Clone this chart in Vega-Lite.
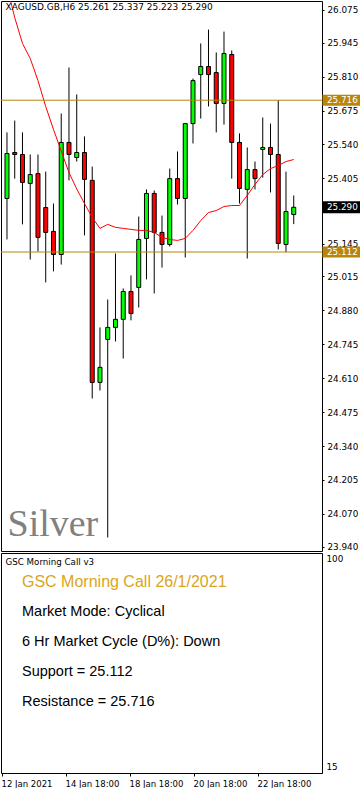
{
  "$schema": "https://vega.github.io/schema/vega-lite/v6.json",
  "background": "white",
  "padding": 0,
  "autosize": {"type": "pad"},
  "bounds": "flush",
  "spacing": 2,
  "config": {
    "view": {"stroke": "black", "strokeWidth": 1},
    "axis": {"labelFont": "DejaVu Sans", "labelColor": "black", "tickColor": "black", "domain": false, "grid": false},
    "title": {"font": "DejaVu Sans", "fontWeight": "normal", "color": "black", "fontSize": 9, "anchor": "start", "frame": "group"}
  },
  "datasets": {
    "candles": [
      {"i": 0, "t": "12 Jan 18:00", "open": 25.325, "high": 25.588, "low": 25.162, "close": 25.504, "ma": 26.169},
      {"i": 1, "t": "13 Jan 00:00", "open": 25.508, "high": 25.635, "low": 25.404, "close": 25.500, "ma": 26.045},
      {"i": 2, "t": "13 Jan 06:00", "open": 25.500, "high": 25.588, "low": 25.222, "close": 25.389, "ma": 25.942},
      {"i": 3, "t": "13 Jan 12:00", "open": 25.385, "high": 25.500, "low": 25.082, "close": 25.420, "ma": 25.882},
      {"i": 4, "t": "13 Jan 18:00", "open": 25.424, "high": 25.500, "low": 25.114, "close": 25.170, "ma": 25.794},
      {"i": 5, "t": "14 Jan 00:00", "open": 25.289, "high": 25.432, "low": 24.991, "close": 25.190, "ma": 25.691},
      {"i": 6, "t": "14 Jan 06:00", "open": 25.194, "high": 25.305, "low": 25.035, "close": 25.102, "ma": 25.600},
      {"i": 7, "t": "14 Jan 12:00", "open": 25.102, "high": 25.663, "low": 25.062, "close": 25.548, "ma": 25.514},
      {"i": 8, "t": "14 Jan 18:00", "open": 25.548, "high": 25.846, "low": 25.397, "close": 25.500, "ma": 25.428},
      {"i": 9, "t": "15 Jan 00:00", "open": 25.488, "high": 25.739, "low": 25.472, "close": 25.508, "ma": 25.363},
      {"i": 10, "t": "15 Jan 06:00", "open": 25.508, "high": 25.572, "low": 25.178, "close": 25.401, "ma": 25.305},
      {"i": 11, "t": "15 Jan 12:00", "open": 25.397, "high": 25.452, "low": 24.529, "close": 24.593, "ma": 25.249},
      {"i": 12, "t": "15 Jan 18:00", "open": 24.593, "high": 24.812, "low": 24.561, "close": 24.653, "ma": 25.206},
      {"i": 13, "t": "18 Jan 00:00", "open": 24.764, "high": 24.923, "low": 23.976, "close": 24.812, "ma": 25.222},
      {"i": 14, "t": "18 Jan 06:00", "open": 24.812, "high": 25.106, "low": 24.756, "close": 24.844, "ma": 25.210},
      {"i": 15, "t": "18 Jan 12:00", "open": 24.844, "high": 24.967, "low": 24.688, "close": 24.955, "ma": 25.206},
      {"i": 16, "t": "18 Jan 18:00", "open": 24.955, "high": 25.019, "low": 24.840, "close": 24.867, "ma": 25.202},
      {"i": 17, "t": "19 Jan 00:00", "open": 24.971, "high": 25.253, "low": 24.891, "close": 25.162, "ma": 25.198},
      {"i": 18, "t": "19 Jan 06:00", "open": 25.166, "high": 25.361, "low": 25.003, "close": 25.345, "ma": 25.198},
      {"i": 19, "t": "19 Jan 12:00", "open": 25.345, "high": 25.357, "low": 24.947, "close": 25.190, "ma": 25.190},
      {"i": 20, "t": "19 Jan 18:00", "open": 25.190, "high": 25.257, "low": 25.050, "close": 25.142, "ma": 25.170},
      {"i": 21, "t": "20 Jan 00:00", "open": 25.142, "high": 25.444, "low": 25.134, "close": 25.404, "ma": 25.162},
      {"i": 22, "t": "20 Jan 06:00", "open": 25.404, "high": 25.512, "low": 25.301, "close": 25.325, "ma": 25.158},
      {"i": 23, "t": "20 Jan 12:00", "open": 25.325, "high": 25.623, "low": 25.090, "close": 25.623, "ma": 25.166},
      {"i": 24, "t": "20 Jan 18:00", "open": 25.623, "high": 25.802, "low": 25.544, "close": 25.794, "ma": 25.198},
      {"i": 25, "t": "21 Jan 00:00", "open": 25.818, "high": 25.942, "low": 25.643, "close": 25.850, "ma": 25.237},
      {"i": 26, "t": "21 Jan 06:00", "open": 25.850, "high": 25.997, "low": 25.691, "close": 25.818, "ma": 25.269},
      {"i": 27, "t": "21 Jan 12:00", "open": 25.826, "high": 25.906, "low": 25.588, "close": 25.703, "ma": 25.277},
      {"i": 28, "t": "21 Jan 18:00", "open": 25.703, "high": 25.989, "low": 25.619, "close": 25.902, "ma": 25.293},
      {"i": 29, "t": "22 Jan 00:00", "open": 25.898, "high": 25.914, "low": 25.404, "close": 25.548, "ma": 25.297},
      {"i": 30, "t": "22 Jan 06:00", "open": 25.548, "high": 25.584, "low": 25.305, "close": 25.365, "ma": 25.297},
      {"i": 31, "t": "22 Jan 12:00", "open": 25.361, "high": 25.528, "low": 25.086, "close": 25.440, "ma": 25.337},
      {"i": 32, "t": "22 Jan 18:00", "open": 25.440, "high": 25.472, "low": 25.361, "close": 25.404, "ma": 25.381},
      {"i": 33, "t": "25 Jan 00:00", "open": 25.520, "high": 25.647, "low": 25.408, "close": 25.528, "ma": 25.420},
      {"i": 34, "t": "25 Jan 06:00", "open": 25.528, "high": 25.623, "low": 25.349, "close": 25.500, "ma": 25.444},
      {"i": 35, "t": "25 Jan 12:00", "open": 25.500, "high": 25.716, "low": 25.122, "close": 25.146, "ma": 25.456},
      {"i": 36, "t": "25 Jan 18:00", "open": 25.142, "high": 25.432, "low": 25.112, "close": 25.273, "ma": 25.472},
      {"i": 37, "t": "26 Jan 00:00", "open": 25.261, "high": 25.337, "low": 25.223, "close": 25.290, "ma": 25.480}
    ],
    "levels": [
      {"name": "Resistance", "price": 25.716},
      {"name": "Support", "price": 25.112}
    ],
    "notes": [
      {"n": 1, "line": "GSC Morning Call 26/1/2021", "kind": "headline"},
      {"n": 2, "line": "Market Mode: Cyclical", "kind": "body"},
      {"n": 3, "line": "6 Hr Market Cycle (D%): Down", "kind": "body"},
      {"n": 4, "line": "Support = 25.112", "kind": "body"},
      {"n": 5, "line": "Resistance = 25.716", "kind": "body"}
    ],
    "watermark": [{"label": "Silver"}]
  },
  "vconcat": [
    {
      "width": 321,
      "height": 550,
      "title": {"text": "XAGUSD.GB,H6  25.261 25.337 25.223 25.290", "orient": "top", "baseline": "alphabetic", "offset": -17.5, "dx": 4.5},
      "layer": [
        {
          "data": {"name": "candles"},
          "mark": {"type": "rule", "color": "black", "strokeWidth": 1},
          "encoding": {
            "x": {"field": "i", "type": "quantitative", "scale": {"domain": [-0.125, 40], "nice": false, "zero": false}, "axis": null},
            "y": {"field": "low", "type": "quantitative", "scale": {"domain": [23.9222, 26.1108], "nice": false, "zero": false},
              "axis": {"orient": "right", "title": null, "values": [26.075, 25.945, 25.81, 25.675, 25.54, 25.405, 25.145, 25.015, 24.88, 24.745, 24.61, 24.475, 24.34, 24.205, 24.07, 23.94], "format": ".3f", "tickSize": 2, "labelPadding": 3, "labelFontSize": 8.8}},
            "y2": {"field": "high"}
          }
        },
        {
          "data": {"name": "candles"},
          "mark": {"type": "bar", "size": 4, "stroke": "black", "strokeWidth": 1},
          "encoding": {
            "x": {"field": "i", "type": "quantitative", "scale": {"domain": [-0.125, 40], "nice": false, "zero": false}, "axis": null},
            "y": {"field": "open", "type": "quantitative", "scale": {"domain": [23.9222, 26.1108], "nice": false, "zero": false},
              "axis": {"orient": "right", "title": null, "values": [26.075, 25.945, 25.81, 25.675, 25.54, 25.405, 25.145, 25.015, 24.88, 24.745, 24.61, 24.475, 24.34, 24.205, 24.07, 23.94], "format": ".3f", "tickSize": 2, "labelPadding": 3, "labelFontSize": 8.8}},
            "y2": {"field": "close"},
            "fill": {"condition": {"test": "datum.close >= datum.open", "value": "#00ff00"}, "value": "#ff0000"}
          }
        },
        {
          "data": {"name": "candles"},
          "mark": {"type": "line", "color": "#ff0000", "strokeWidth": 1, "clip": true},
          "encoding": {
            "x": {"field": "i", "type": "quantitative", "scale": {"domain": [-0.125, 40], "nice": false, "zero": false}, "axis": null},
            "y": {"field": "ma", "type": "quantitative", "scale": {"domain": [23.9222, 26.1108], "nice": false, "zero": false},
              "axis": {"orient": "right", "title": null, "values": [26.075, 25.945, 25.81, 25.675, 25.54, 25.405, 25.145, 25.015, 24.88, 24.745, 24.61, 24.475, 24.34, 24.205, 24.07, 23.94], "format": ".3f", "tickSize": 2, "labelPadding": 3, "labelFontSize": 8.8}}
          }
        },
        {
          "data": {"name": "levels"},
          "mark": {"type": "rule", "color": "#b8860b", "strokeWidth": 1},
          "encoding": {
            "y": {"field": "price", "type": "quantitative", "scale": {"domain": [23.9222, 26.1108], "nice": false, "zero": false},
              "axis": {"orient": "right", "title": null, "values": [26.075, 25.945, 25.81, 25.675, 25.54, 25.405, 25.145, 25.015, 24.88, 24.745, 24.61, 24.475, 24.34, 24.205, 24.07, 23.94], "format": ".3f", "tickSize": 2, "labelPadding": 3, "labelFontSize": 8.8}}
          }
        },
        {
          "data": {"name": "levels"},
          "mark": {"type": "rect", "color": "#b8860b", "x": 321.5, "x2": 359.5, "yOffset": -5.5, "y2Offset": 5.5, "clip": false},
          "encoding": {
            "y": {"field": "price", "type": "quantitative", "scale": {"domain": [23.9222, 26.1108], "nice": false, "zero": false},
              "axis": {"orient": "right", "title": null, "values": [26.075, 25.945, 25.81, 25.675, 25.54, 25.405, 25.145, 25.015, 24.88, 24.745, 24.61, 24.475, 24.34, 24.205, 24.07, 23.94], "format": ".3f", "tickSize": 2, "labelPadding": 3, "labelFontSize": 8.8}},
            "y2": {"field": "price"}
          }
        },
        {
          "data": {"name": "levels"},
          "mark": {"type": "text", "color": "white", "x": 326, "align": "left", "baseline": "middle", "font": "DejaVu Sans", "fontSize": 8.8},
          "encoding": {
            "y": {"field": "price", "type": "quantitative", "scale": {"domain": [23.9222, 26.1108], "nice": false, "zero": false},
              "axis": {"orient": "right", "title": null, "values": [26.075, 25.945, 25.81, 25.675, 25.54, 25.405, 25.145, 25.015, 24.88, 24.745, 24.61, 24.475, 24.34, 24.205, 24.07, 23.94], "format": ".3f", "tickSize": 2, "labelPadding": 3, "labelFontSize": 8.8}},
            "text": {"field": "price", "type": "quantitative", "format": ".3f"}
          }
        },
        {
          "data": {"name": "candles"},
          "transform": [{"filter": "datum.i == 37"}],
          "mark": {"type": "rect", "color": "black", "x": 321.5, "x2": 359.5, "yOffset": -6, "y2Offset": 6, "clip": false},
          "encoding": {
            "y": {"field": "close", "type": "quantitative", "scale": {"domain": [23.9222, 26.1108], "nice": false, "zero": false},
              "axis": {"orient": "right", "title": null, "values": [26.075, 25.945, 25.81, 25.675, 25.54, 25.405, 25.145, 25.015, 24.88, 24.745, 24.61, 24.475, 24.34, 24.205, 24.07, 23.94], "format": ".3f", "tickSize": 2, "labelPadding": 3, "labelFontSize": 8.8}},
            "y2": {"field": "close"}
          }
        },
        {
          "data": {"name": "candles"},
          "transform": [{"filter": "datum.i == 37"}],
          "mark": {"type": "text", "color": "white", "x": 326, "align": "left", "baseline": "middle", "font": "DejaVu Sans", "fontSize": 8.8},
          "encoding": {
            "y": {"field": "close", "type": "quantitative", "scale": {"domain": [23.9222, 26.1108], "nice": false, "zero": false},
              "axis": {"orient": "right", "title": null, "values": [26.075, 25.945, 25.81, 25.675, 25.54, 25.405, 25.145, 25.015, 24.88, 24.745, 24.61, 24.475, 24.34, 24.205, 24.07, 23.94], "format": ".3f", "tickSize": 2, "labelPadding": 3, "labelFontSize": 8.8}},
            "text": {"field": "close", "type": "quantitative", "format": ".3f"}
          }
        },
        {
          "data": {"name": "watermark"},
          "mark": {"type": "text", "x": 6.5, "y": 534.5, "align": "left", "baseline": "alphabetic", "font": "Liberation Serif", "fontSize": 38, "color": "#808080"},
          "encoding": {"text": {"field": "label", "type": "nominal"}}
        }
      ]
    },
    {
      "width": 321,
      "height": 220,
      "title": {"text": "GSC Morning Call v3", "orient": "top", "baseline": "alphabetic", "offset": -20.3, "dx": 4.5, "fontSize": 8.7},
      "layer": [
        {
          "data": {"name": "candles"},
          "mark": {"type": "rule", "opacity": 0},
          "encoding": {
            "x": {"field": "i", "type": "quantitative", "scale": {"domain": [-0.125, 40], "nice": false, "zero": false},
              "axis": {"title": null, "values": [0, 8, 16, 24, 32], "labelExpr": "datum.value == 0 ? '12 Jan 2021' : datum.value == 8 ? '14 Jan 18:00' : datum.value == 16 ? '18 Jan 18:00' : datum.value == 24 ? '20 Jan 18:00' : '22 Jan 18:00'", "labelAlign": "left", "labelOffset": -1, "labelFlush": false, "labelOverlap": false, "tickSize": 3, "labelPadding": 3, "labelFontSize": 8.5}},
            "y": {"datum": 15, "type": "quantitative", "scale": {"domain": [12.34, 102.25], "nice": false, "zero": false},
              "axis": {"orient": "right", "title": null, "values": [15, 100], "ticks": false, "labelFlush": false, "labelPadding": 4, "labelFontSize": 8.8}},
            "y2": {"datum": 100}
          }
        },
        {
          "data": {"name": "notes"},
          "mark": {"type": "text", "x": 21, "align": "left", "baseline": "middle", "font": "Liberation Sans"},
          "encoding": {
            "y": {"field": "n", "type": "ordinal", "scale": {"type": "point", "range": [29.2, 148.5], "padding": 0}, "axis": null},
            "text": {"field": "line", "type": "nominal"},
            "color": {"field": "kind", "type": "nominal", "scale": {"domain": ["headline", "body"], "range": ["#daa520", "black"]}, "legend": null},
            "size": {"field": "kind", "type": "ordinal", "scale": {"domain": ["headline", "body"], "range": [16, 14.5]}, "legend": null}
          }
        }
      ],
      "resolve": {"scale": {"y": "independent"}, "axis": {"y": "independent"}}
    }
  ]
}
